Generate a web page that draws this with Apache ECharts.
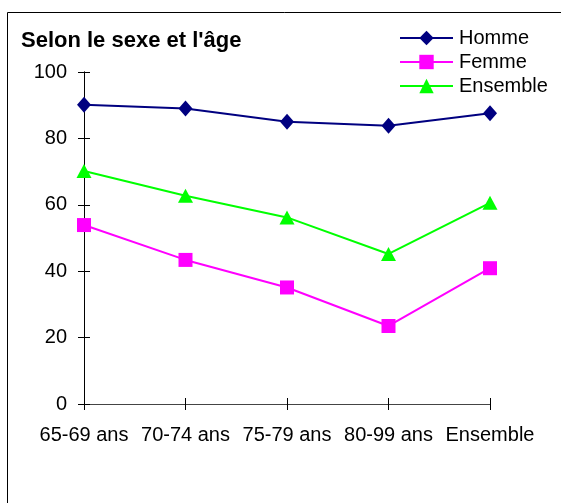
<!DOCTYPE html>
<html>
<head>
<meta charset="utf-8">
<script src="https://cdn.jsdelivr.net/npm/echarts@6/dist/echarts.min.js"></script>
<style>
html, body { margin: 0; padding: 0; background: #fff; }
#chart { width: 561px; height: 503px; }
</style>
</head>
<body>
<div id="chart"></div>
<script>
// donnees
var categories = ['65-69 ans', '70-74 ans', '75-79 ans', '80-99 ans', 'Ensemble'];
var homme = [90.1, 89.0, 85.0, 83.8, 87.6];
var femme = [53.9, 43.4, 35.1, 23.5, 40.9];
var ensemble = [70.2, 62.7, 56.2, 45.2, 60.6];
var yTicks = [0, 20, 40, 60, 80, 100];

var font = 'Liberation Sans, Arial, sans-serif';
var gridL = 84, gridR = 71, gridT = 72, gridB = 99;
var plotW = 561 - gridL - gridR, plotH = 503 - gridT - gridB;
var chart = echarts.init(document.getElementById('chart'));

function serie(name, data, color, symbol, size, axisIdx) {
	return {
		name: name,
		type: 'line',
		xAxisIndex: axisIdx,
		yAxisIndex: axisIdx,
		data: data,
		symbol: symbol,
		symbolSize: size,
		showAllSymbol: true,
		lineStyle: { color: color, width: 2 },
		itemStyle: { color: color },
		emphasis: { disabled: true },
		animation: false
	};
}

chart.setOption({
	animation: false,
	title: {
		text: "Selon le sexe et l'âge",
		left: 21, top: 30,
		padding: 0,
		textStyle: { fontFamily: font, fontSize: 22, fontWeight: 'bold', color: '#000' }
	},
	legend: {
		orient: 'vertical',
		left: 399, top: 28,
		padding: 0,
		itemWidth: 53, itemHeight: 18, itemGap: 4,
		textStyle: { fontFamily: font, fontSize: 20, color: '#000', lineHeight: 20, padding: [0, 0, 0, 1] },
		data: ['Homme', 'Femme', 'Ensemble']
	},
	graphic: [{
		type: 'rect',
		shape: { x: 7.5, y: 12.5, width: 700, height: 700 },
		style: { fill: 'none', stroke: '#000', lineWidth: 1 },
		silent: true
	}],
	grid: { left: gridL, right: gridR, top: gridT, bottom: gridB, containLabel: false },
	xAxis: [{
		type: 'category',
		data: categories,
		boundaryGap: false,
		axisLine: { lineStyle: { color: '#444', width: 1 } },
		axisTick: { show: true, length: 6, lineStyle: { color: '#000' } },
		axisLabel: { fontFamily: font, fontSize: 20, color: '#000', margin: 21, interval: 0 },
		splitLine: { show: false }
	}, {
		// axe jumeau: la moitie interieure des graduations croisees
		type: 'category',
		data: categories,
		position: 'top',
		offset: -plotH,
		boundaryGap: false,
		axisLine: { show: true, onZero: false, lineStyle: { color: '#444', width: 1 } },
		axisTick: { show: true, length: 6, lineStyle: { color: '#000' } },
		axisLabel: { show: true, color: 'rgba(0,0,0,0)', interval: 0 },
		splitLine: { show: false }
	}],
	yAxis: [{
		type: 'value',
		min: yTicks[0], max: yTicks[yTicks.length - 1], interval: 20,
		axisLine: { show: true, lineStyle: { color: '#000', width: 1 } },
		axisTick: { show: true, length: 6, lineStyle: { color: '#000' } },
		axisLabel: { fontFamily: font, fontSize: 20, color: '#000', margin: 17 },
		splitLine: { show: false }
	}, {
		type: 'value',
		position: 'right',
		offset: -plotW,
		min: yTicks[0], max: yTicks[yTicks.length - 1], interval: 20,
		axisLine: { show: true, onZero: false, lineStyle: { color: '#000', width: 1 } },
		axisTick: { show: true, length: 6, lineStyle: { color: '#000' } },
		axisLabel: { show: true, color: 'rgba(0,0,0,0)' },
		splitLine: { show: false }
	}],
	series: [
		serie('Homme', homme, '#000080', 'diamond', [14, 16], 1),
		serie('Femme', femme, '#ff00ff', 'rect', 14, 0),
		serie('Ensemble', ensemble, '#00ff00', 'triangle', [15, 14], 0)
	]
});
</script>
</body>
</html>
